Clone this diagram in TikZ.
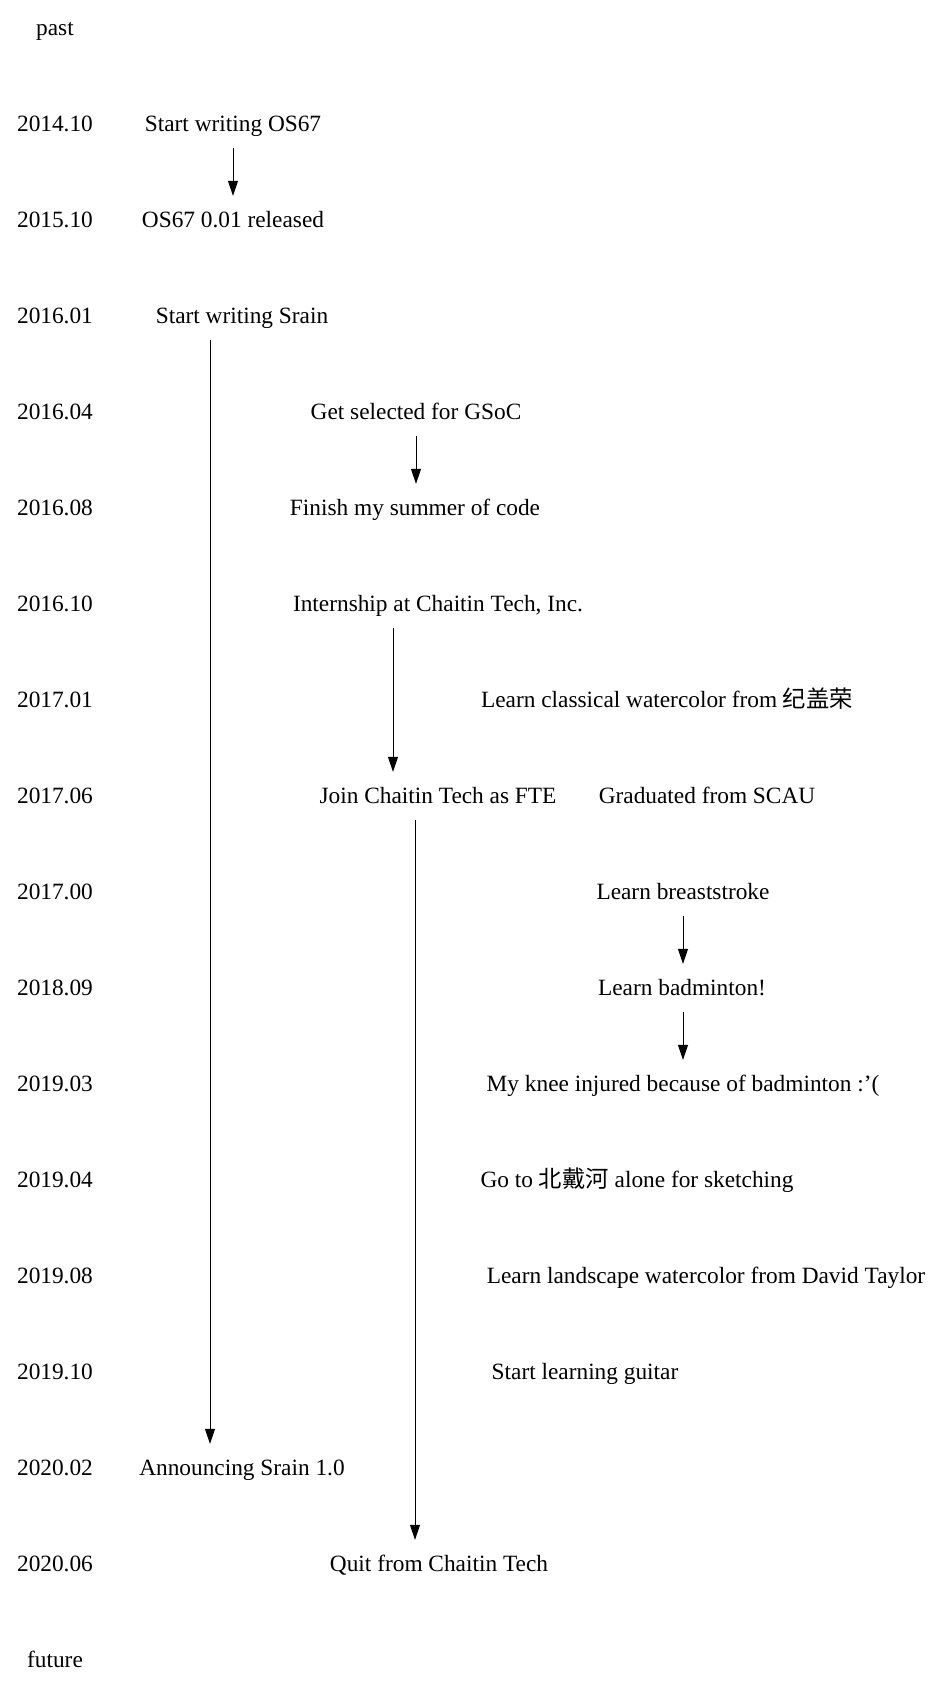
\documentclass[tikz,border=0pt]{standalone}
\usepackage{fontspec}
\setmainfont{Liberation Serif}
\newfontfamily\cjk{Noto Sans CJK SC}
\usepackage{tikz}
\usetikzlibrary{arrows.meta}

\tikzset{
    evento/.style={inner sep=0pt, outer sep=0pt, minimum height=29pt,
                   text height=10.5pt, text depth=1pt,
                   font=\fontsize{14}{16}\selectfont},
    freccia/.style={-{Triangle[length=9pt,width=6pt]}, line width=0.6pt}
}

\begin{document}
\begin{tikzpicture}[x=0.6pt, y=-0.6pt]
            \useasboundingbox (0,0) rectangle (945,1691);

            % Date
            \foreach \i/\d in {0/past, 1/2014.10, 2/2015.10, 3/2016.01, 4/2016.04, 5/2016.08,
                               6/2016.10, 7/2017.01, 8/2017.06, 9/2017.00, 10/2018.09,
                               11/2019.03, 12/2019.04, 13/2019.08, 14/2019.10,
                               15/2020.02, 16/2020.06, 17/future} {
                    \node[evento] (d\i) at (55, {28+96*\i}) {\d};
                }

            % Eventi
            \foreach \n/\x/\r/\t in {os1/233/1/{Start writing OS67},
                                     os2/233/2/{OS67 0.01 released},
                                     srain/242/3/{Start writing Srain},
                                     gsoc/416/4/{Get selected for GSoC},
                                     soc/415/5/{Finish my summer of code},
                                     intern/438/6/{Internship at Chaitin Tech, Inc.},
                                     color/667/7/{Learn classical watercolor from {\cjk 纪盖荣}},
                                     fte/438/8/{Join Chaitin Tech as FTE},
                                     scau/707/8/{Graduated from SCAU},
                                     swim/683/9/{Learn breaststroke},
                                     badm/682/10/{Learn badminton!},
                                     knee/683/11/{My knee injured because of badminton :'(},
                                     bdh/637/12/{Go to {\cjk 北戴河} alone for sketching},
                                     taylor/706/13/{Learn landscape watercolor from David Taylor},
                                     guitar/585/14/{Start learning guitar},
                                     srain1/242/15/{Announcing Srain 1.0},
                                     quit/439/16/{Quit from Chaitin Tech}} {
                    \node[evento] (\n) at (\x, {28+96*\r}) {\t};
                }

            % Archi
            \foreach \a/\b/\x in {os1/os2/233, srain/srain1/210, gsoc/soc/416,
                                  intern/fte/393, fte/quit/415, swim/badm/683, badm/knee/683} {
                    \draw[freccia] (\a.south -| \x,0) -- (\b.north -| \x,0);
                }
        \end{tikzpicture}
\end{document}
